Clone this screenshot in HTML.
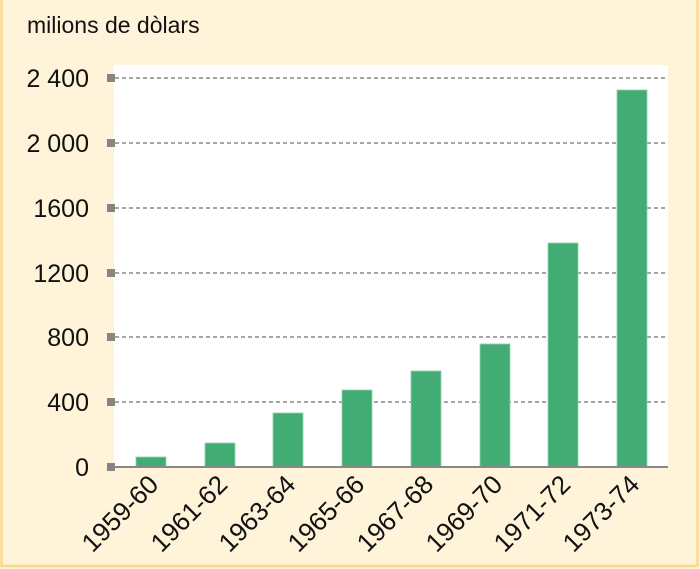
<!DOCTYPE html>
<html><head><meta charset="utf-8"><style>
html,body{margin:0;padding:0;background:#fff3d9;}
svg{display:block;font-family:"Liberation Sans","DejaVu Sans",sans-serif;}
</style></head><body>
<svg width="700" height="569" viewBox="0 0 700 569" xmlns="http://www.w3.org/2000/svg">
<rect x="0" y="0" width="700" height="569" fill="#fff3d9"/>
<rect x="1.5" y="-2" width="696" height="568" fill="none" stroke="#fcd98a" stroke-width="2.5"/>
<rect x="114" y="65" width="554" height="402" fill="#ffffff"/>
<g stroke="#888" stroke-width="1.6" stroke-dasharray="4,3">
<line x1="115" y1="78" x2="668" y2="78"/>
<line x1="115" y1="143" x2="668" y2="143"/>
<line x1="115" y1="208" x2="668" y2="208"/>
<line x1="115" y1="273" x2="668" y2="273"/>
<line x1="115" y1="337" x2="668" y2="337"/>
<line x1="115" y1="402" x2="668" y2="402"/>
</g>
<g fill="#43ac74" stroke="#8fd3ad" stroke-width="0.8">
<rect x="136" y="457" width="30" height="10"/>
<rect x="205" y="443" width="30" height="24"/>
<rect x="273" y="413" width="30" height="54"/>
<rect x="342" y="390" width="30" height="77"/>
<rect x="411" y="371" width="30" height="96"/>
<rect x="480" y="344" width="30" height="123"/>
<rect x="548" y="243" width="30" height="224"/>
<rect x="617" y="90" width="30" height="377"/>
</g>
<line x1="114" y1="467" x2="668" y2="467" stroke="#888" stroke-width="2"/>
<g fill="#858585">
<rect x="107" y="74" width="8" height="8"/>
<rect x="107" y="139" width="8" height="8"/>
<rect x="107" y="204" width="8" height="8"/>
<rect x="107" y="269" width="8" height="8"/>
<rect x="107" y="333" width="8" height="8"/>
<rect x="107" y="398" width="8" height="8"/>
<rect x="107" y="463" width="8" height="8"/>
</g>
<text x="27" y="33" font-size="23" fill="#111">milions de dòlars</text>
<g font-size="25" fill="#111" text-anchor="end">
<text x="89" y="87">2 400</text>
<text x="89" y="152">2 000</text>
<text x="89" y="217">1600</text>
<text x="89" y="282">1200</text>
<text x="89" y="346">800</text>
<text x="89" y="411">400</text>
<text x="89" y="476">0</text>
</g>
<g font-size="26" fill="#111" text-anchor="end">
<text transform="translate(160,486) rotate(-45)">1959-60</text>
<text transform="translate(229,486) rotate(-45)">1961-62</text>
<text transform="translate(297,486) rotate(-45)">1963-64</text>
<text transform="translate(366,486) rotate(-45)">1965-66</text>
<text transform="translate(435,486) rotate(-45)">1967-68</text>
<text transform="translate(504,486) rotate(-45)">1969-70</text>
<text transform="translate(572,486) rotate(-45)">1971-72</text>
<text transform="translate(641,486) rotate(-45)">1973-74</text>
</g>
</svg>
</body></html>
